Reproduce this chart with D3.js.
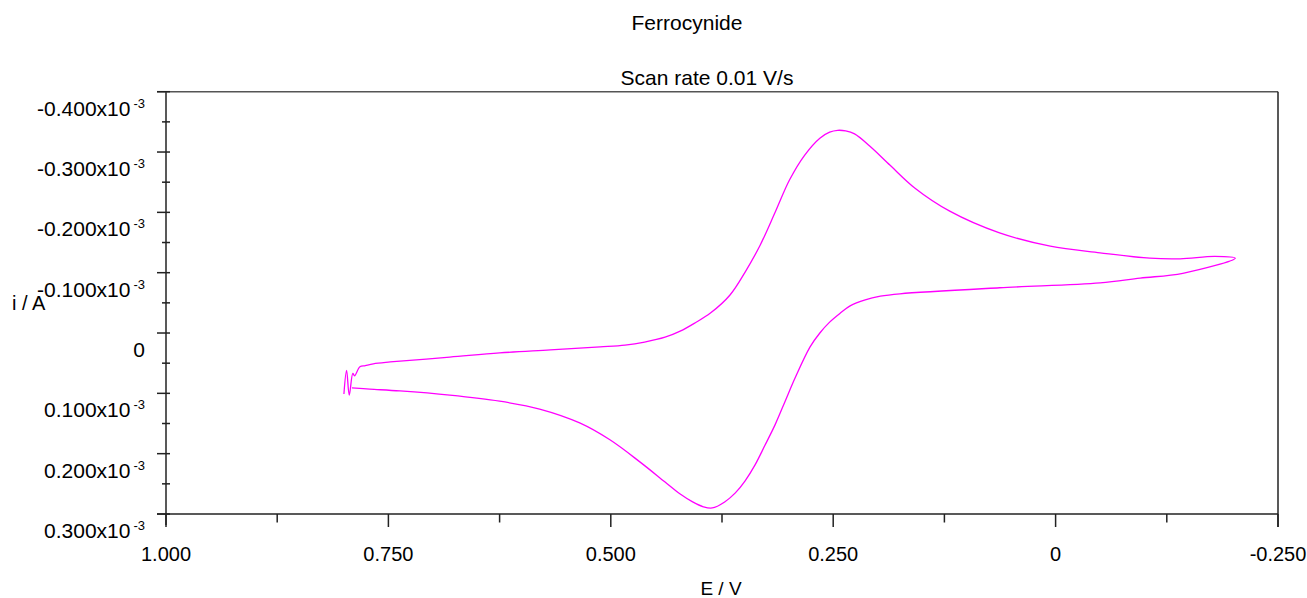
<!DOCTYPE html>
<html><head><meta charset="utf-8">
<script src="https://cdn.jsdelivr.net/npm/d3@7"></script>
<style>
body{margin:0;background:#fff;}
text{font-family:"Liberation Sans",Arial,sans-serif;fill:#000;}
</style></head>
<body><svg id="c" width="1307" height="598"></svg>
<script>
// Data: potential E (V) and current i (x10^-3 A), forward scan then reverse scan
const forwardE = [0.800,0.797,0.794,0.790,0.788,0.782,0.776,0.767,0.748,0.681,0.625,0.568,0.512,0.484,0.462,0.439,0.422,0.405,0.388,0.366,0.349,0.332,0.315,0.299,0.282,0.265,0.254,0.245,0.236,0.226,0.209,0.186,0.158,0.119,0.063,0.006,-0.050,-0.106,-0.140,-0.179,-0.202];
const forwardI = [0.101,0.062,0.103,0.067,0.071,0.056,0.054,0.051,0.048,0.040,0.033,0.028,0.023,0.020,0.015,0.007,-0.003,-0.017,-0.033,-0.063,-0.101,-0.146,-0.201,-0.254,-0.295,-0.323,-0.333,-0.336,-0.335,-0.330,-0.310,-0.278,-0.240,-0.202,-0.166,-0.144,-0.133,-0.124,-0.123,-0.127,-0.124];
const reverseE = [-0.202,-0.143,-0.095,-0.050,0.063,0.175,0.197,0.214,0.231,0.242,0.254,0.265,0.276,0.293,0.304,0.315,0.327,0.338,0.349,0.360,0.372,0.386,0.396,0.408,0.422,0.439,0.467,0.501,0.535,0.580,0.625,0.681,0.737,0.771,0.791];
const reverseI = [-0.124,-0.099,-0.091,-0.083,-0.075,-0.065,-0.061,-0.055,-0.045,-0.033,-0.018,0.000,0.023,0.075,0.113,0.151,0.187,0.219,0.245,0.265,0.280,0.290,0.288,0.280,0.267,0.247,0.214,0.177,0.149,0.126,0.113,0.103,0.096,0.093,0.091];

const xMajorTicks = [1.0,0.75,0.5,0.25,0,-0.25];
const xMajorLabels = ["1.000","0.750","0.500","0.250","0","-0.250"];
const xMinorTicks = [0.875,0.625,0.375,0.125,-0.125];
const yMajorTicks = [-0.4,-0.3,-0.2,-0.1,0,0.1,0.2,0.3];
const yMajorLabels = ["-0.400","-0.300","-0.200","-0.100","0","0.100","0.200","0.300"];
const yMinorTicks = [-0.35,-0.25,-0.15,-0.05,0.05,0.15,0.25];

const titleText = "Ferrocynide";
const subtitleText = "Scan rate 0.01 V/s";
const xTitle = "E / V";
const yTitle = "i / A";

const svg = d3.select("#c");
const L = 166, R = 1278, T = 91.7, B = 514;
const x = d3.scaleLinear().domain([1.0,-0.25]).range([L,R]);
const y = d3.scaleLinear().domain([-0.4,0.3]).range([T,B]);

const ax = svg.append("g").attr("stroke","#222").attr("stroke-width",1.5).attr("fill","none");
// frame
ax.append("line").attr("x1",L).attr("x2",L).attr("y1",T).attr("y2",B+11);
ax.append("line").attr("x1",L-9).attr("x2",R).attr("y1",B).attr("y2",B);
ax.append("line").attr("x1",L-9).attr("x2",R).attr("y1",T).attr("y2",T).attr("stroke","#555");
ax.append("line").attr("x1",R).attr("x2",R).attr("y1",T).attr("y2",B+13);
// x ticks
ax.selectAll(".xM").data(xMajorTicks).join("line")
  .attr("x1",d=>x(d)).attr("x2",d=>x(d)).attr("y1",B).attr("y2",B+13);
ax.selectAll(".xm").data(xMinorTicks).join("line")
  .attr("x1",d=>x(d)).attr("x2",d=>x(d)).attr("y1",B).attr("y2",B+8.5);
// y ticks
ax.selectAll(".yM").data(yMajorTicks).join("line")
  .attr("x1",L-9).attr("x2",L+4).attr("y1",d=>y(d)).attr("y2",d=>y(d));
ax.selectAll(".ym").data(yMinorTicks).join("line")
  .attr("x1",L-4).attr("x2",L+4).attr("y1",d=>y(d)).attr("y2",d=>y(d));

// x labels
svg.selectAll(".xl").data(xMajorTicks).join("text")
  .attr("x",d=>x(d)).attr("y",561).attr("text-anchor","middle")
  .attr("font-size",20).text((d,i)=>xMajorLabels[i]);
// y labels
const yl = svg.selectAll(".yl").data(yMajorTicks).join("text")
  .attr("x",145).attr("y",d=>y(d)+24).attr("text-anchor","end").attr("font-size",21);
yl.each(function(d,i){
  const t = d3.select(this);
  if (d === 0) { t.text(yMajorLabels[i]); return; }
  t.append("tspan").text(yMajorLabels[i] + "x10");
  t.append("tspan").attr("font-size",13).attr("dx",3).attr("dy",-8).text("-3");
});

// titles
svg.append("text").attr("x",687).attr("y",30).attr("text-anchor","middle").attr("font-size",21).text(titleText);
svg.append("text").attr("x",707).attr("y",85).attr("text-anchor","middle").attr("font-size",21).text(subtitleText);
svg.append("text").attr("x",721).attr("y",595).attr("text-anchor","middle").attr("font-size",19).text(xTitle);
svg.append("text").attr("x",12).attr("y",310).attr("font-size",20).text(yTitle);

// curve
const pts = forwardE.map((e,i)=>[e,forwardI[i]]).concat(reverseE.slice(1).map((e,i)=>[e,reverseI[i+1]]));
const line = d3.line().x(d=>x(d[0])).y(d=>y(d[1])).curve(d3.curveCatmullRom.alpha(0.5));
svg.append("path").attr("d",line(pts)).attr("fill","none").attr("stroke","#ff00ff").attr("stroke-width",1.3);
</script></body></html>
